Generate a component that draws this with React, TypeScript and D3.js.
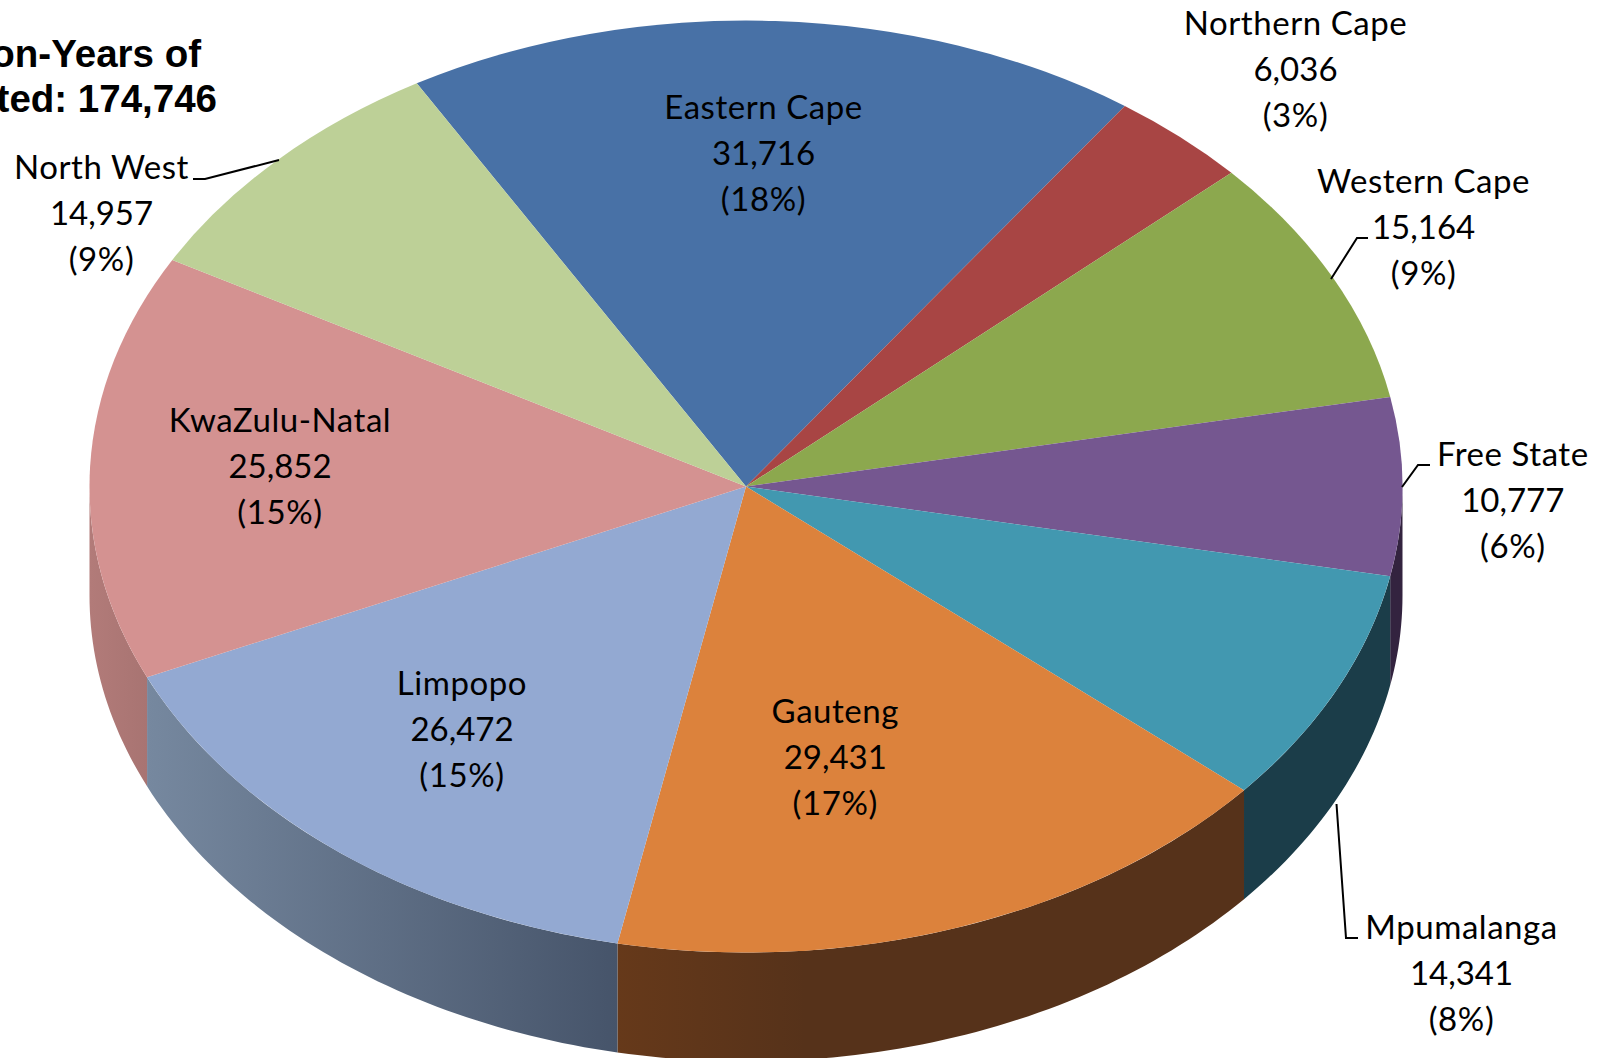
import React from "react";
import * as d3 from "d3";

const categories = ["Eastern Cape", "Northern Cape", "Western Cape", "Free State", "Mpumalanga", "Gauteng", "Limpopo", "KwaZulu-Natal", "North West"];
const values = [31716, 6036, 15164, 10777, 14341, 29431, 26472, 25852, 14957];
const percents = ["18%", "3%", "9%", "6%", "8%", "17%", "15%", "15%", "9%"];
const topColors = ["#4871a6", "#a84544", "#8ca84e", "#755790", "#4298b0", "#dc823c", "#93a9d2", "#d49291", "#bdd097"];
const wallStart = ["#2b4463", "#652a29", "#54652f", "#33233f", "#1b3d49", "#66391a", "#76889f", "#b27b79", "#71805a"];
const wallEnd = ["#2b4463", "#652a29", "#54652f", "#33233f", "#1b3d49", "#56321a", "#46546a", "#a87472", "#71805a"];
const wallEndOffset = [1, 1, 1, 1, 1, 0.3, 1, 1, 1];
const titleLines = ["on-Years of", "ted: 174,746"];

const W = 1607, H = 1058;
const CX = 746, CY = 486.5, RX = 656.5, RY = 466, DEPTH = 109;
const START = (-30.1 * Math.PI) / 180;
const FONT = "Lato, sans-serif";
const FS = 33;

const labelPos: Record<string, [number, number]> = {
  "Eastern Cape": [763.5, 108],
  "Northern Cape": [1295.5, 24],
  "Western Cape": [1423.6, 182],
  "Free State": [1512.8, 455],
  "Mpumalanga": [1461.5, 928],
  "Gauteng": [835.3, 712],
  "Limpopo": [462, 684],
  "KwaZulu-Natal": [280, 421],
  "North West": [101.5, 168],
};
const rowOffset = [-1, 45.7, 91.4];
const rowSpacing = [0.55, 0, 0.6];

const leaderLines: [number, number][][] = [
  [[193, 179], [205, 179], [279, 160]],
  [[1368, 238], [1357, 238], [1331, 279]],
  [[1430, 465], [1418, 465], [1402, 487]],
  [[1358, 938], [1346, 938], [1336.5, 804]],
];

const pie = d3.pie<number>().sort(null).startAngle(START).endAngle(START + 2 * Math.PI);
const arcs = pie(values);
const arcGen = d3.arc<d3.PieArcDatum<number>>().innerRadius(0).outerRadius(RX);
const line = d3.line();

function wallPath(a0: number, a1: number) {
  const lo = Math.max(a0, Math.PI / 2);
  const hi = Math.min(a1, (3 * Math.PI) / 2);
  if (hi <= lo) return null;
  const n = Math.max(2, Math.ceil(((hi - lo) * 180) / Math.PI));
  const ang = d3.range(n + 1).map((i) => lo + ((hi - lo) * i) / n);
  const top = ang.map((t) => [CX + RX * Math.sin(t), CY - RY * Math.cos(t)] as [number, number]);
  const bot = top.slice().reverse().map(([x, y]) => [x, y + DEPTH] as [number, number]);
  return { d: line([...top, ...bot])! + "Z", x0: d3.min(top, (p) => p[0])!, x1: d3.max(top, (p) => p[0])! };
}

export default function App() {
  const walls = arcs.map((a) => wallPath(a.startAngle, a.endAngle));
  return (
    <svg width={W} height={H} viewBox={`0 0 ${W} ${H}`} style={{ position: "absolute", left: 0, top: 0, display: "block", background: "#fff" }}>
      <defs>
        {walls.map((w, i) =>
          w ? (
            <linearGradient key={i} id={`wall${i}`} gradientUnits="userSpaceOnUse" x1={w.x0} x2={w.x1} y1={0} y2={0}>
              <stop offset="0" stopColor={wallStart[i]} />
              <stop offset={wallEndOffset[i]} stopColor={wallEnd[i]} />
            </linearGradient>
          ) : null
        )}
      </defs>
      {walls.map((w, i) => (w ? <path key={i} d={w.d} fill={`url(#wall${i})`} /> : null))}
      <g transform={`translate(${CX},${CY}) scale(1,${RY / RX})`}>
        {arcs.map((a, i) => (
          <path key={i} d={arcGen(a)!} fill={topColors[i]} />
        ))}
      </g>
      {leaderLines.map((l, i) => (
        <path key={i} d={line(l)!} fill="none" stroke="#000" strokeWidth={2} />
      ))}
      {categories.map((c, i) => {
        const [x, y] = labelPos[c];
        const rows = [c, d3.format(",")(values[i]), `(${percents[i]})`];
        return (
          <text key={c} textAnchor="middle" fontFamily={FONT} fontSize={FS} fill="#000">
            {rows.map((r, j) => (
              <tspan key={j} x={x} y={y + rowOffset[j]} dy="0.35em" letterSpacing={rowSpacing[j]}>{r}</tspan>
            ))}
          </text>
        );
      })}
      <text textAnchor="end" fontFamily="'Liberation Sans', Arial, sans-serif" fontWeight="bold" fontSize={38.5} fill="#000">
        <tspan x={201} y={67}>{titleLines[0]}</tspan>
        <tspan x={217} y={112}>{titleLines[1]}</tspan>
      </text>
    </svg>
  );
}
